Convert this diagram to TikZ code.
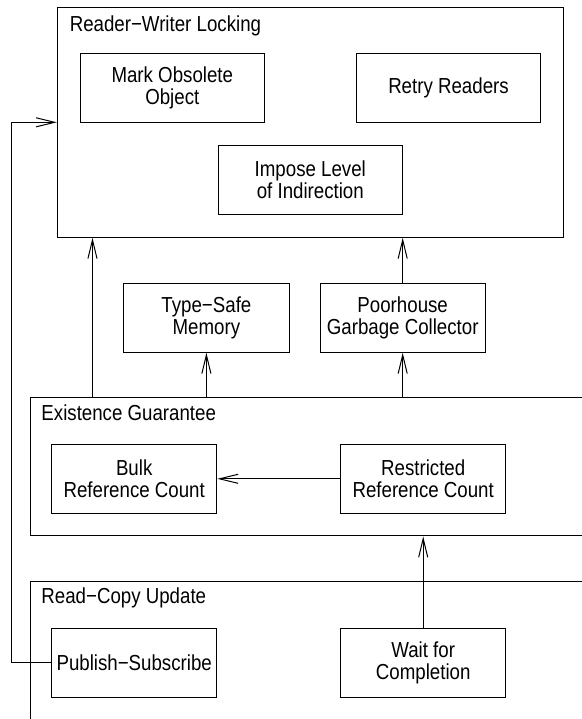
\documentclass[tikz,border=0pt]{standalone}
\usepackage{fontspec}
\setmainfont{Liberation Sans}[FakeStretch=0.86]
\usetikzlibrary{arrows.meta}
\tikzset{
  frame/.style={draw, line width=0.75pt, inner sep=0pt},
  wbox/.style={draw, line width=0.75pt, align=center, inner sep=0pt, minimum width=138pt, minimum height=51.75pt},
  nbox/.style={wbox, minimum width=124pt},
  ttl/.style={anchor=base west, inner sep=0pt},
  arr/.style={line width=0.75pt, -{Straight Barb[length=14pt, width=6.8pt]}}
}
\begin{document}
\begin{tikzpicture}[x=0.75pt, y=-0.75pt, font=\fontsize{16.3pt}{16.5pt}\selectfont]
\clip (0,0) rectangle (582,719);
\node[frame, minimum width=379.8pt, minimum height=172.5pt] (rwl) at (310.5,122.3) {};
\node[frame, minimum width=442pt, minimum height=103.7pt] (exist) at (325.35,466.85) {};
\node[frame, minimum width=442pt, minimum height=133.7pt] (rcu) at (325.35,670.85) {};
\path (rwl.north west) ++(12.7,25) node[ttl]{Reader−Writer Locking};
\path (exist.north west) ++(11,23) node[ttl]{Existence Guarantee};
\path (rcu.north west) ++(11,22.3) node[ttl]{Read−Copy Update};
\node[wbox] (mark) at (172.3,87.8) {Mark Obsolete\\Object};
\node[wbox] (retry) at (448.5,87.8) {Retry Readers};
\node[wbox] (impose) at (310.3,179.9) {Impose Level\\of Indirection};
\node[nbox] (typesafe) at (206.4,317.8) {Type−Safe\\Memory};
\node[nbox] (poorhouse) at (402.7,317.8) {Poorhouse\\Garbage Collector};
\node[nbox] (bulk) at (134.2,478.8) {Bulk\\Reference Count};
\node[nbox] (restricted) at (423.2,478.8) {Restricted\\Reference Count};
\node[nbox] (pubsub) at (134.2,662.5) {Publish−Subscribe};
\node[nbox] (waitfor) at (423.2,662.5) {Wait for\\Completion};
\path (exist.north west) ++(62.3,0) coordinate (lk);
\draw[arr] (lk) -- (lk |- rwl.south);
\draw[arr] (typesafe.south |- exist.north) -- (typesafe.south);
\draw[arr] (poorhouse.south |- exist.north) -- (poorhouse.south);
\draw[arr] (poorhouse.north) -- (poorhouse.north |- rwl.south);
\draw[arr] (restricted.west) -- (bulk.east);
\draw[arr] (waitfor.north) -- (waitfor.north |- exist.south);
\draw[arr] (pubsub.west) -- ++(-39.7,0) |- (rwl.west);
\end{tikzpicture}
\end{document}
